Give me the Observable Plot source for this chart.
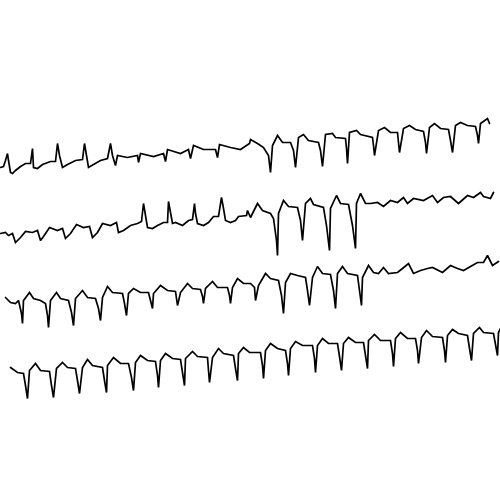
<!DOCTYPE html>
<html><head><meta charset="utf-8">
<script src="https://cdn.jsdelivr.net/npm/d3@7"></script>
<script src="https://cdn.jsdelivr.net/npm/@observablehq/plot@0.6"></script>
<style>body{margin:0;background:#fff}</style>
</head><body><div id="chart"></div>
<script>
// Each trace: [time, level] pairs (level measured downward, 0..500)
const lead1 = [[0,167],[3,166],[5,160],[7,153],[8,160],[10,172],[12,173],[15,170],[20,166],[25,163],[30,163],[32,148],[33,167],[37,168],[42,164],[50,161],[55,161],[57,143],[59,155],[62,167],[67,164],[75,160],[82,159],[84,143],[86,155],[88,167],[93,164],[100,160],[107,158],[110,143],[112,155],[115,165],[117,155],[127,157],[137,155],[138,162],[140,153],[153,156],[163,153],[165,161],[167,149],[180,153],[188,149],[190,158],[193,145],[203,149],[215,149],[217,157],[219,144],[230,147],[240,149],[243,147],[249,143],[250,139],[257,143],[263,147],[268,155],[270,172],[272,145],[277,135],[282,142],[290,142],[293,150],[295,167],[298,137],[303,134],[308,140],[318,142],[320,150],[322,166],[325,134],[332,133],[335,137],[345,138],[346,148],[347,163],[349,132],[356,130],[360,134],[372,137],[373,145],[374,155],[378,130],[384,127],[390,132],[397,132],[398,142],[399,152],[403,128],[409,125],[415,129],[423,131],[425,142],[426,153],[429,127],[434,123],[440,128],[448,129],[450,140],[452,152],[455,125],[460,122],[467,125],[475,126],[477,135],[478,143],[480,123],[487,118],[489,123]];
const lead2 = [[0,233],[5,232],[8,235],[12,233],[15,242],[20,237],[25,231],[32,232],[37,230],[40,240],[43,236],[49,227],[57,230],[62,228],[65,238],[70,233],[76,224],[83,227],[89,226],[92,237],[97,232],[102,223],[110,225],[116,222],[118,232],[123,230],[130,225],[137,223],[141,221],[143,203],[145,215],[147,227],[152,228],[157,225],[163,222],[167,222],[168,201],[170,212],[172,223],[175,222],[182,225],[188,220],[192,219],[194,203],[195,213],[197,223],[203,225],[208,222],[213,216],[218,216],[221,197],[223,208],[225,220],[230,222],[235,220],[238,216],[246,215],[247,210],[250,217],[257,203],[262,210],[270,213],[273,218],[276,240],[277,255],[278,213],[283,200],[288,206],[297,207],[300,220],[302,240],[305,203],[310,198],[313,204],[323,207],[326,225],[329,250],[330,208],[336,195],[340,203],[348,204],[352,225],[355,248],[356,203],[360,193],[365,203],[370,203],[377,202],[383,206],[390,200],[397,202],[403,197],[407,203],[413,198],[423,200],[432,195],[437,202],[443,197],[450,196],[458,203],[467,195],[473,197],[480,192],[483,196],[490,198],[493,192]];
const lead3 = [[5,297],[10,302],[15,303],[18,300],[21,313],[22,323],[23,300],[29,292],[33,298],[40,300],[45,303],[47,315],[48,327],[50,300],[56,292],[60,298],[68,300],[71,312],[73,325],[75,298],[82,290],[87,297],[95,298],[98,308],[100,320],[102,297],[107,286],[112,292],[122,293],[124,303],[126,315],[128,293],[133,288],[140,292],[148,292],[150,300],[152,308],[153,293],[160,285],[167,290],[175,291],[176,298],[177,305],[180,292],[187,283],[192,288],[200,289],[202,296],[203,303],[205,288],[212,281],[217,287],[227,287],[229,295],[230,303],[232,287],[237,278],[243,283],[249,283],[250,283],[254,287],[255,300],[258,285],[265,273],[270,278],[278,280],[281,295],[283,313],[285,282],[290,273],[297,275],[305,277],[307,290],[309,305],[312,277],[317,266],[322,273],[330,274],[333,290],[335,308],[337,273],[342,266],[347,273],[357,275],[359,290],[361,305],[362,277],[368,265],[373,272],[378,273],[383,267],[388,273],[397,272],[402,268],[408,263],[413,273],[420,270],[427,268],[432,267],[442,272],[450,265],[457,268],[463,270],[470,266],[477,262],[483,262],[487,255],[492,265],[498,261]];
const lead4 = [[10,367],[17,372],[23,373],[25,385],[27,398],[29,370],[35,363],[40,370],[49,371],[51,385],[53,397],[56,368],[62,362],[67,367],[75,368],[77,380],[79,393],[82,367],[87,359],[92,365],[102,367],[104,380],[106,392],[107,365],[113,357],[120,363],[128,363],[131,377],[133,390],[135,362],[140,355],[147,360],[155,361],[157,375],[158,387],[160,360],[165,353],[172,358],[180,359],[182,372],[184,385],[185,358],[192,351],[197,356],[207,357],[208,370],[209,382],[212,357],[218,348],[223,353],[233,355],[235,368],[237,380],[238,353],[243,347],[249,352],[260,352],[262,365],[263,378],[265,350],[270,343],[277,348],[285,350],[287,363],[288,375],[290,348],[295,341],[302,345],[312,345],[314,358],[315,372],[317,345],[322,338],[328,343],[337,343],[339,356],[341,370],[343,343],[348,337],[355,342],[363,342],[365,355],[367,368],[368,340],[374,334],[380,340],[390,340],[392,353],[393,366],[395,338],[400,332],[407,338],[415,338],[417,350],[418,363],[421,337],[426,330],[432,336],[442,337],[444,350],[445,362],[447,335],[452,329],[458,333],[467,335],[469,348],[471,360],[473,333],[479,327],[483,332],[493,333],[495,344],[497,355],[498,332],[500,328]];

const leads = [lead1, lead2, lead3, lead4];
const data = leads.flatMap((lead, i) => lead.map(([t, v]) => ({t, v, lead: i})));

const chart = Plot.plot({
  width: 500,
  height: 500,
  margin: 0,
  x: {domain: [0, 500], axis: null},
  y: {domain: [0, 500], reverse: true, axis: null},
  marks: [
    Plot.line(data, {x: "t", y: "v", z: "lead", stroke: "#000", strokeWidth: 1.7, strokeLinejoin: "miter", strokeMiterlimit: 2})
  ]
});
document.getElementById("chart").appendChild(chart);
</script>
</body></html>
